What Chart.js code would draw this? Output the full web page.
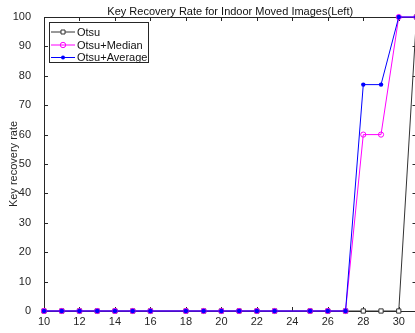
<!DOCTYPE html>
<html>
<head>
<meta charset="utf-8">
<script src="https://cdn.jsdelivr.net/npm/chart.js@4.4.1/dist/chart.umd.min.js"></script>
<style>
  html, body { margin: 0; padding: 0; background: #fff; overflow: hidden; }
  #wrap { width: 440px; height: 333px; }
</style>
</head>
<body>
<div id="wrap"><canvas id="chart" width="440" height="333"></canvas></div>
<script>
// values
const xValues = [10, 11, 12, 13, 14, 15, 16, 18, 19, 20, 21, 22, 23, 25, 26, 27, 28, 29, 30, 31]
const otsu = [0, 0, 0, 0, 0, 0, 0, 0, 0, 0, 0, 0, 0, 0, 0, 0, 0, 0, 0, 100]
const otsuMedian = [0, 0, 0, 0, 0, 0, 0, 0, 0, 0, 0, 0, 0, 0, 0, 0, 60, 60, 100, 100]
const otsuAverage = [0, 0, 0, 0, 0, 0, 0, 0, 0, 0, 0, 0, 0, 0, 0, 0, 77, 77, 100, 100]
const xTicks = [10, 12, 14, 16, 18, 20, 22, 24, 26, 28, 30]
const yTicks = [0, 10, 20, 30, 40, 50, 60, 70, 80, 90, 100]
const seriesNames = ["Otsu", "Otsu+Median", "Otsu+Average"]

const titleText = "Key Recovery Rate for Indoor Moved Images(Left)"
const yTitle = "Key recovery rate"
const axisColor = "#262626"
const fontFamily = "'Liberation Sans', Arial, sans-serif"

const toPoints = (ys) => xValues.map((x, i) => ({ x: x, y: ys[i] }))

// box, inward ticks, titles (MATLAB look)
const frame = {
  id: "frame",
  beforeDatasetsDraw(chart) {
    const { ctx, chartArea: a, scales } = chart
    ctx.save()
    ctx.strokeStyle = axisColor
    ctx.lineWidth = 1
    ctx.beginPath()
    ctx.moveTo(Math.round(a.left) + 0.5, a.top)
    ctx.lineTo(Math.round(a.left) + 0.5, a.bottom)
    ctx.moveTo(a.left, Math.round(a.bottom) + 0.5)
    ctx.lineTo(a.right, Math.round(a.bottom) + 0.5)
    ctx.moveTo(a.left, Math.round(a.top) + 0.5)
    ctx.lineTo(a.right, Math.round(a.top) + 0.5)
    ctx.moveTo(Math.round(a.right) + 0.5, a.top)
    ctx.lineTo(Math.round(a.right) + 0.5, a.bottom)
    xTicks.forEach(v => {
      const px = Math.round(scales.x.getPixelForValue(v)) + 0.5
      ctx.moveTo(px, a.bottom); ctx.lineTo(px, a.bottom - 4)
      ctx.moveTo(px, a.top); ctx.lineTo(px, a.top + 4)
    })
    yTicks.forEach(v => {
      const py = Math.round(scales.y.getPixelForValue(v)) + 0.5
      ctx.moveTo(a.left, py); ctx.lineTo(a.left + 4, py)
      ctx.moveTo(a.right, py); ctx.lineTo(a.right - 4, py)
    })
    ctx.stroke()

    ctx.fillStyle = "#111"
    ctx.font = "11px " + fontFamily
    ctx.textAlign = "center"
    ctx.textBaseline = "alphabetic"
    ctx.fillText(titleText, (a.left + a.right) / 2, 14.5)

    ctx.fillStyle = axisColor
    ctx.translate(17, (a.top + a.bottom) / 2)
    ctx.rotate(-Math.PI / 2)
    ctx.fillText(yTitle, 0, 0)
    ctx.restore()
  }
}

const drawMarker = (ctx, style, x, y) => {
  ctx.beginPath()
  if (style === "rect") {
    ctx.rect(x - 2, y - 2, 4, 4)
    ctx.fillStyle = "#fff"
    ctx.fill()
    ctx.stroke()
  } else if (style === "ring") {
    ctx.arc(x, y, 2.7, 0, Math.PI * 2)
    ctx.stroke()
  } else {
    ctx.arc(x, y, 2, 0, Math.PI * 2)
    ctx.fill()
  }
}

const boxLegend = {
  id: "boxLegend",
  afterDraw(chart) {
    const { ctx } = chart
    const left = 49.5, top = 22.5, w = 99, h = 40
    const rows = [32, 45, 57.5]
    const styles = [
      { color: "#333", marker: "rect" },
      { color: "#ff00ff", marker: "ring" },
      { color: "#0000ff", marker: "dot" }
    ]
    ctx.save()
    ctx.fillStyle = "#fff"
    ctx.fillRect(left, top, w, h)
    ctx.strokeStyle = axisColor
    ctx.lineWidth = 1
    ctx.strokeRect(left, top, w, h)
    ctx.font = "11px " + fontFamily
    ctx.textBaseline = "middle"
    ctx.textAlign = "left"
    seriesNames.forEach((name, i) => {
      const y = rows[i]
      ctx.strokeStyle = styles[i].color
      ctx.fillStyle = styles[i].color
      ctx.beginPath()
      ctx.moveTo(51, y); ctx.lineTo(75, y)
      ctx.stroke()
      drawMarker(ctx, styles[i].marker, 63, y)
      ctx.fillStyle = "#111"
      ctx.fillText(name, 77, y + 0.5)
    })
    ctx.restore()
  }
}

new Chart(document.getElementById("chart"), {
  type: "line",
  data: {
    datasets: [
      {
        label: seriesNames[0],
        data: toPoints(otsu),
        borderColor: "#333",
        borderWidth: 1,
        pointStyle: "rect",
        pointRadius: 3,
        pointBackgroundColor: "#fff",
        pointBorderColor: "#333",
        pointBorderWidth: 1,
        order: 3
      },
      {
        label: seriesNames[1],
        data: toPoints(otsuMedian),
        borderColor: "#ff00ff",
        borderWidth: 1,
        pointStyle: "circle",
        pointRadius: 2.6,
        pointBackgroundColor: "rgba(0,0,0,0)",
        pointBorderColor: "#ff00ff",
        pointBorderWidth: 1,
        order: 2
      },
      {
        label: seriesNames[2],
        data: toPoints(otsuAverage),
        borderColor: "#0000ff",
        borderWidth: 1,
        pointStyle: "circle",
        pointRadius: 2.2,
        pointBackgroundColor: "#0000ff",
        pointBorderColor: "#0000ff",
        pointBorderWidth: 0,
        order: 1
      }
    ]
  },
  options: {
    responsive: false,
    devicePixelRatio: 1,
    animation: false,
    events: [],
    clip: false,
    layout: { padding: { top: 17, right: 23.5, left: 0, bottom: 0 } },
    plugins: {
      legend: { display: false },
      title: { display: false },
      tooltip: { enabled: false }
    },
    scales: {
      x: {
        type: "linear",
        min: 10,
        max: 31,
        grid: { display: false, drawTicks: false },
        border: { display: false },
        afterBuildTicks: (scale) => { scale.ticks = xTicks.map(v => ({ value: v })) },
        afterFit: (scale) => { scale.height = 22 },
        ticks: {
          autoSkip: false,
          maxRotation: 0,
          padding: 4,
          color: axisColor,
          font: { family: fontFamily, size: 11 }
        }
      },
      y: {
        type: "linear",
        min: 0,
        max: 100,
        grid: { display: false },
        border: { display: false },
        afterBuildTicks: (scale) => { scale.ticks = yTicks.map(v => ({ value: v })) },
        afterFit: (scale) => { scale.width = 44 },
        ticks: {
          padding: 5,
          color: axisColor,
          font: { family: fontFamily, size: 11 }
        }
      }
    }
  },
  plugins: [frame, boxLegend]
})
</script>
</body>
</html>
